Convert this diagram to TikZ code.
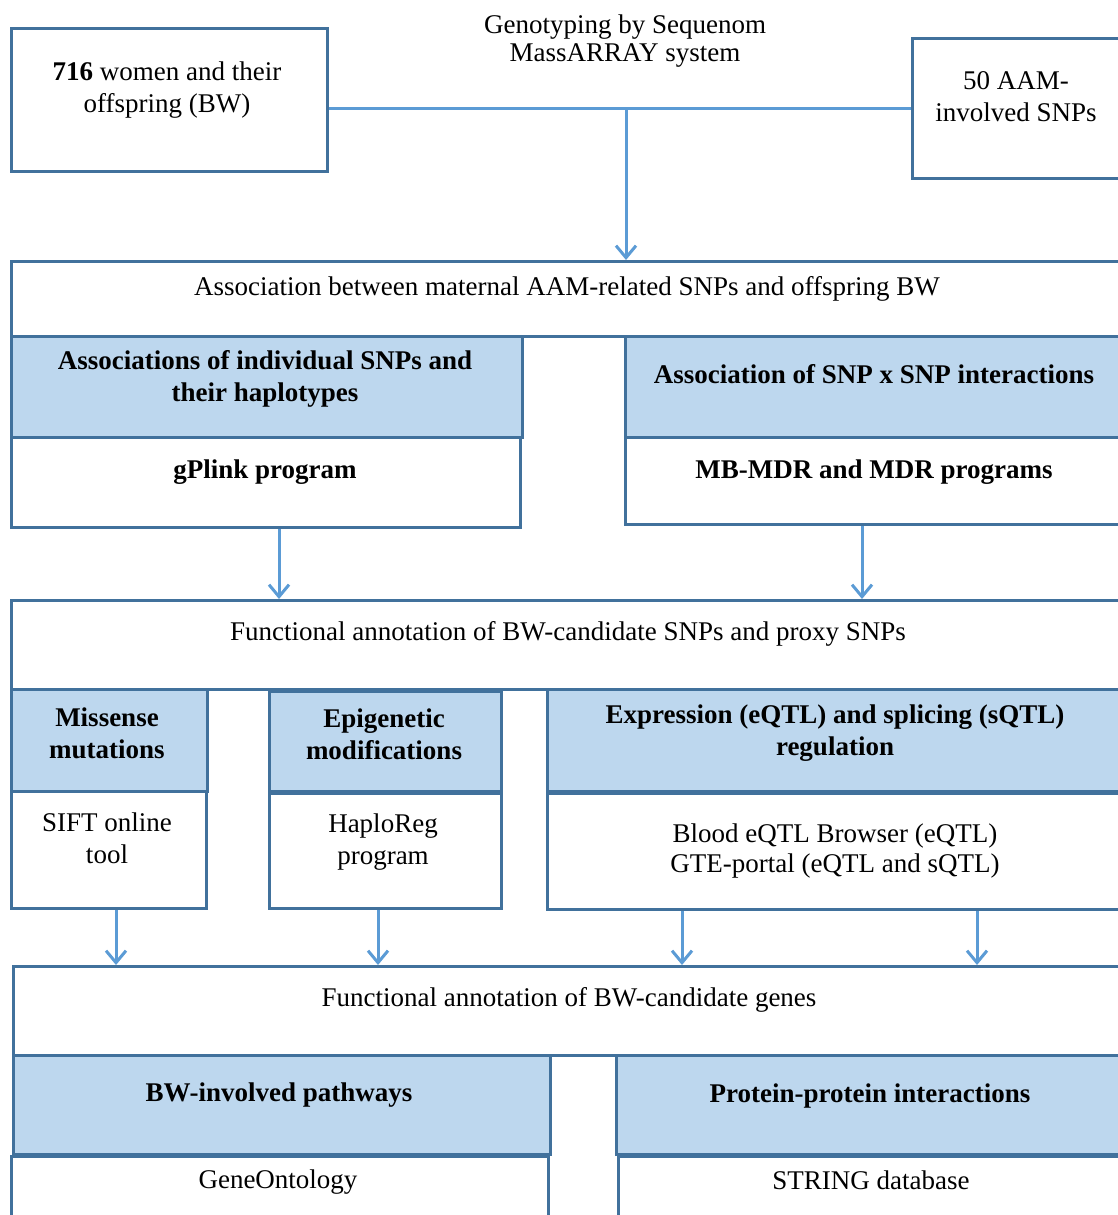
\documentclass[tikz,border=0pt]{standalone}
\usepackage{fontspec}
\setmainfont{Liberation Serif}
\usetikzlibrary{arrows.meta}
\definecolor{bord}{HTML}{41719C}
\definecolor{fillc}{HTML}{BDD7EE}
\definecolor{arrc}{HTML}{5B9BD5}
\begin{document}
\begin{tikzpicture}[x=1pt,y=-1pt,
  box/.style={draw=bord, line width=3pt, inner sep=0pt, anchor=north west, fill=white},
  hbox/.style={box, fill=fillc},
  txt/.style={font=\fontsize{27}{32}\selectfont, align=center, inner sep=0pt},
  btxt/.style={font=\fontsize{27}{32}\selectfont\bfseries, align=center, inner sep=0pt},
  con/.style={draw=arrc, line width=3pt},
  arr/.style={con, -{Straight Barb[length=12pt,width=20pt,line width=3pt]}}]
\useasboundingbox (0,0) rectangle (1118,1215);
\clip (0,0) rectangle (1118,1215);
% top row
\node[box, minimum width=316pt, minimum height=143pt] (src) at (10,27) {};
\node[box, minimum width=214pt, minimum height=140pt] (snps) at (911,37) {};
% association block
\node[box, minimum width=1115pt, minimum height=75pt] (assoc) at (10,260) {};
\node[hbox, minimum width=511pt, minimum height=101pt] (ind) at (10,335) {};
\node[box, minimum width=509pt, minimum height=90pt] (gplink) at (10,436) {};
\node[hbox, minimum width=501pt, minimum height=101pt] (inter) at (624,335) {};
\node[box, minimum width=501pt, minimum height=87pt] (mdr) at (624,436) {};
% functional annotation SNPs
\node[box, minimum width=1115pt, minimum height=89pt] (func) at (10,599) {};
\node[hbox, minimum width=196pt, minimum height=102pt] (miss) at (10,688) {};
\node[box, minimum width=195pt, minimum height=117pt] (sift) at (10,790) {};
\node[hbox, minimum width=232pt, minimum height=100pt] (epi) at (268,690) {};
\node[box, minimum width=232pt, minimum height=115pt] (haplo) at (268,792) {};
\node[hbox, minimum width=579pt, minimum height=102pt] (expr) at (546,688) {};
\node[box, minimum width=579pt, minimum height=116pt] (blood) at (546,792) {};
% functional annotation genes
\node[box, minimum width=1113pt, minimum height=89pt] (genes) at (12,965) {};
\node[hbox, minimum width=537pt, minimum height=99pt] (path) at (12,1054) {};
\node[box, minimum width=537pt, minimum height=100pt] (geneont) at (10,1155) {};
\node[hbox, minimum width=510pt, minimum height=99pt] (ppi) at (615,1054) {};
\node[box, minimum width=508pt, minimum height=100pt] (string) at (617,1155) {};
% texts
\node[txt] (tsrc) at (167,90) {\textbf{716} women and their\\offspring (BW)};
\node[txt, font=\fontsize{27}{28}\selectfont] (tgeno) at (625,41) {Genotyping by Sequenom\\MassARRAY system};
\node[txt] (tsnps) at (1016,97) {50 AAM-\\involved SNPs};
\node[txt] (tassoc) at (567,289) {Association between maternal AAM-related SNPs and offspring BW};
\node[btxt] (tind) at (265,379) {Associations of individual SNPs and\\their haplotypes};
\node[btxt] (tgplink) at (265,472) {gPlink program};
\node[btxt] (tinter) at (874,374) {Association of SNP x SNP interactions};
\node[btxt] (tmdr) at (874,472) {MB-MDR and MDR programs};
\node[txt] (tfunc) at (568,634) {Functional annotation of BW-candidate SNPs and proxy SNPs};
\node[btxt] (tmiss) at (107,733) {Missense\\mutations};
\node[txt] (tsift) at (107,838) {SIFT online\\tool};
\node[btxt] (tepi) at (384,734) {Epigenetic\\modifications};
\node[txt] (thaplo) at (383,842) {HaploReg\\program};
\node[btxt] (texpr) at (835,733) {Expression (eQTL) and splicing (sQTL)\\regulation};
\node[txt, font=\fontsize{27}{30}\selectfont] (tblood) at (835,851) {Blood eQTL Browser (eQTL)\\GTE-portal (eQTL and sQTL)};
\node[txt] (tgenes) at (569,1000) {Functional annotation of BW-candidate genes};
\node[btxt] (tpath) at (279,1095) {BW-involved pathways};
\node[txt] (tgeneont) at (278,1182) {GeneOntology};
\node[btxt] (tppi) at (870,1096) {Protein-protein interactions};
\node[txt] (tstring) at (871,1180) {STRING database};
% connectors
\coordinate (j) at (626,108);
\draw[con] (src.east |- j) -- (snps.west |- j);
\draw[arr] (j) -- (assoc.north -| j);
\coordinate (a1) at (279,0);
\coordinate (a2) at (862,0);
\coordinate (a3) at (116,0);
\coordinate (a4) at (378,0);
\coordinate (a5) at (682,0);
\coordinate (a6) at (977,0);
\draw[arr] (gplink.south -| a1) -- (func.north -| a1);
\draw[arr] (mdr.south -| a2) -- (func.north -| a2);
\draw[arr] (sift.south -| a3) -- (genes.north -| a3);
\draw[arr] (haplo.south -| a4) -- (genes.north -| a4);
\draw[arr] (blood.south -| a5) -- (genes.north -| a5);
\draw[arr] (blood.south -| a6) -- (genes.north -| a6);
\end{tikzpicture}
\end{document}
